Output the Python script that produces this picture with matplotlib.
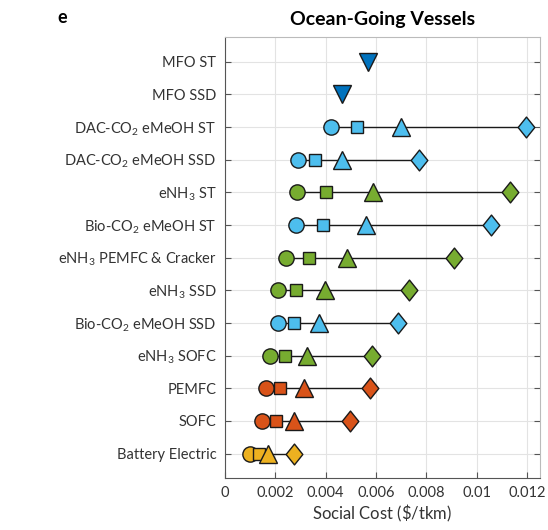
"""
Costo social por tkm para buques oceánicos (panel e).
"""

import matplotlib
matplotlib.use("Agg")
import matplotlib.pyplot as plt
from matplotlib.path import Path

# Categorías (de arriba hacia abajo)
categorias = [
    "MFO ST",
    "MFO SSD",
    "DAC-CO$_2$ eMeOH ST",
    "DAC-CO$_2$ eMeOH SSD",
    "eNH$_3$ ST",
    "Bio-CO$_2$ eMeOH ST",
    "eNH$_3$ PEMFC & Cracker",
    "eNH$_3$ SSD",
    "Bio-CO$_2$ eMeOH SSD",
    "eNH$_3$ SOFC",
    "PEMFC",
    "SOFC",
    "Battery Electric",
]

# Valores de referencia para MFO (triángulo invertido)
mfo_valores = [0.00569, 0.00465]

# Valores por escenario (círculo, cuadrado, triángulo, rombo) para el resto
circulo = [0.00420, 0.00291, 0.00287, 0.00284, 0.00245, 0.00210,
           0.00210, 0.00181, 0.00162, 0.00150, 0.00101]
cuadrado = [0.00526, 0.00360, 0.00403, 0.00391, 0.00336, 0.00284,
            0.00276, 0.00241, 0.00221, 0.00203, 0.00137]
triangulo = [0.00699, 0.00466, 0.00590, 0.00562, 0.00484, 0.00397,
             0.00375, 0.00327, 0.00314, 0.00276, 0.00171]
rombo = [0.01195, 0.00772, 0.01131, 0.01058, 0.00909, 0.00731,
         0.00686, 0.00585, 0.00577, 0.00497, 0.00276]

# Color por tecnología
AZUL = "#4DBEEE"
VERDE = "#77AC30"
ROJO = "#D95319"
AMARILLO = "#EDB120"
colores = [AZUL, AZUL, VERDE, AZUL, VERDE, VERDE, AZUL, VERDE, ROJO, ROJO, AMARILLO]

plt.rcParams["font.family"] = ["Lato", "DejaVu Sans"]
plt.rcParams["mathtext.fontset"] = "custom"
plt.rcParams["mathtext.rm"] = "Lato"
plt.rcParams["mathtext.it"] = "Lato:italic"

# Rombo algo más alto que ancho
rombo_marker = Path([(0, 1), (0.8, 0), (0, -1), (-0.8, 0), (0, 1)],
                    [Path.MOVETO, Path.LINETO, Path.LINETO, Path.LINETO, Path.CLOSEPOLY])

fig = plt.figure(figsize=(5.48, 5.30), dpi=100)
ax = fig.add_axes([0.41, 0.098, 0.575, 0.832])

n = len(categorias)
ypos = list(range(n))

# MFO
ax.plot(mfo_valores, ypos[:2], linestyle="none", marker="v", markersize=13,
        markerfacecolor="#0072BD", markeredgecolor="#1a1a1a", markeredgewidth=1.0, zorder=5)

# Resto de tecnologías
for i, y in enumerate(ypos[2:]):
    c = colores[i]
    ax.plot([circulo[i], rombo[i]], [y, y], color="#1a1a1a", linewidth=1.0, zorder=2)
    estilo = dict(linestyle="none", markerfacecolor=c, markeredgecolor="#1a1a1a",
                  markeredgewidth=1.0, zorder=4)
    ax.plot(circulo[i], y, marker="o", markersize=11, **estilo)
    ax.plot(cuadrado[i], y, marker="s", markersize=8.5, **estilo)
    ax.plot(triangulo[i], y, marker="^", markersize=13, **estilo)
    ax.plot(rombo[i], y, marker=rombo_marker, markersize=15, **estilo)

ax.set_yticks(ypos)
ax.set_yticklabels(categorias, fontsize=10.5, color="#333333")
ax.set_ylim(n - 0.25, -0.75)

ax.set_xlim(0, 0.0125)
ax.set_xticks([0, 0.002, 0.004, 0.006, 0.008, 0.01, 0.012])
ax.set_xticklabels(["0", "0.002", "0.004", "0.006", "0.008", "0.01", "0.012"],
                   fontsize=10.5, color="#333333")
ax.set_xlabel("Social Cost ($\\$$/tkm)", fontsize=12, color="#333333", labelpad=2)

ax.grid(True, color="#e3e3e3", linewidth=0.8, zorder=0)
ax.set_axisbelow(True)
ax.tick_params(axis="both", direction="in", length=4, color="#555555",
               right=True, top=False, pad=6)
for lado in ["left", "bottom"]:
    ax.spines[lado].set_color("#555555")
for lado in ["top", "right"]:
    ax.spines[lado].set_color("#bbbbbb")

ax.set_title("Ocean-Going Vessels", fontsize=14, fontweight="bold", pad=9)
fig.text(0.105, 0.967, "e", fontsize=13, fontweight="bold", ha="left", va="center")

plt.savefig("out.png", dpi=100)
